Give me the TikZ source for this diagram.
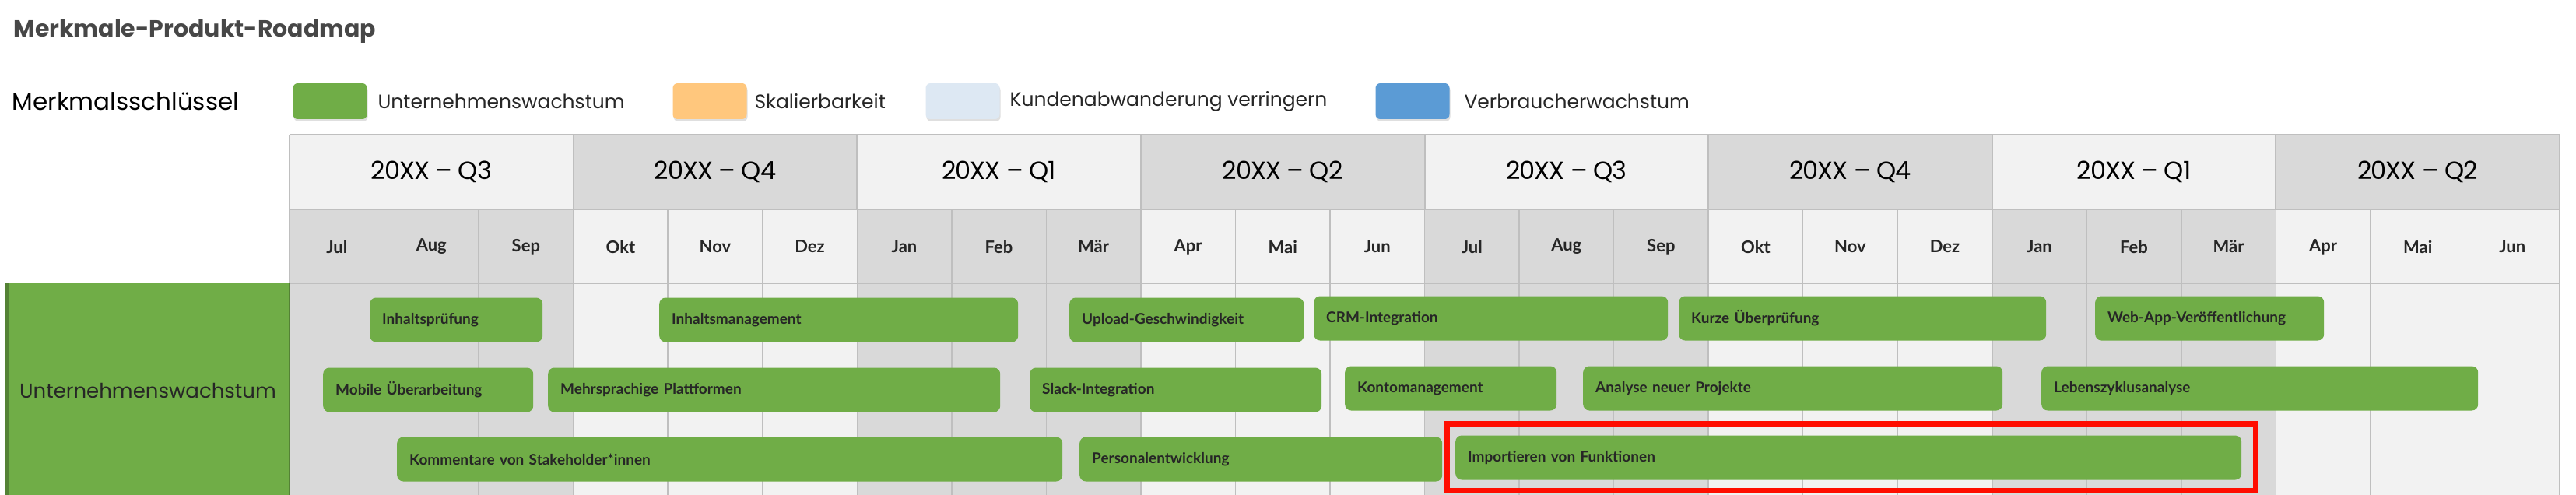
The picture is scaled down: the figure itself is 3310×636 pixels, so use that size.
\documentclass[tikz,border=0pt]{standalone}
\usepackage{fontspec}
\setmainfont{Poppins}
\newfontfamily\barfont{Lato}
\definecolor{gr}{HTML}{70AD47}
\definecolor{grd}{HTML}{548235}
\definecolor{lite}{HTML}{F2F2F2}
\definecolor{dark}{HTML}{D9D9D9}
\definecolor{gline}{HTML}{BFBFBF}
\definecolor{orng}{HTML}{FFC77D}
\definecolor{lblue}{HTML}{DDE8F3}
\definecolor{blu}{HTML}{5B9BD5}
\definecolor{txt}{HTML}{262626}
\tikzset{
 bar/.style={fill=gr, rounded corners=8pt, minimum height=57pt, inner xsep=16pt, align=left, anchor=west, font=\barfont\bfseries\fontsize{19}{22}\selectfont, text=txt},
 legbox/.style={rounded corners=6pt, minimum width=95pt, minimum height=46pt, drop shadow={opacity=0.25, shadow xshift=1pt, shadow yshift=-3pt}},
 legtxt/.style={anchor=west, font=\fontsize{25}{28}\selectfont, text=txt},
 qlab/.style={font=\fontsize{32}{36}\selectfont\addfontfeatures{LetterSpace=-3}, text=black},
 mlab/.style={font=\barfont\bfseries\fontsize{22}{26}\selectfont, text=txt}
}
\usetikzlibrary{shadows}
\begin{document}
\begin{tikzpicture}[x=1pt,y=-1pt]
\useasboundingbox (0,0) rectangle (3310,636);
\fill[white] (0,0) rectangle (3310,636);
\node[anchor=west, font=\bfseries\fontsize{30}{34}\selectfont, text=black!72] (title) at (14,40) {Merkmale-Produkt-Roadmap};
\node[anchor=west, font=\fontsize{31}{34}\selectfont, text=black] (key) at (12,130) {Merkmalsschlüssel};
\node[legbox, fill=gr] (l1) at (424,130) {};
\node[legtxt] (t1) at (482,130) {Unternehmenswachstum};
\node[legbox, fill=orng] (l2) at (912,130) {};
\node[legtxt] (t2) at (966,130) {Skalierbarkeit};
\node[legbox, fill=lblue] (l3) at (1237,130) {};
\node[legtxt] (t3) at (1294,130) {Kundenabwanderung verringern};
\node[legbox, fill=blu] (l4) at (1815,130) {};
\node[legtxt] (t4) at (1878,130) {Verbraucherwachstum};
% columns
\def\mw{121.54}
\foreach \q in {0,...,7}{
  \pgfmathsetmacro{\xa}{372+3*\q*\mw}
  \pgfmathsetmacro{\xb}{372+3*(\q+1)*\mw}
  \pgfmathparse{mod(\q,2)==0 ? "lite" : "dark"}\edef\qc{\pgfmathresult}
  \pgfmathparse{mod(\q,2)==0 ? "dark" : "lite"}\edef\bc{\pgfmathresult}
  \fill[\qc] (\xa,173) rectangle (\xb,269);
  \fill[\bc] (\xa,269) rectangle (\xb,636);
}
\foreach \i in {0,...,24}{
  \pgfmathsetmacro{\xx}{372+\i*\mw}
  \draw[gline, line width=1.5pt] (\xx,269) -- (\xx,636);
}
\foreach \q in {0,...,8}{
  \pgfmathsetmacro{\xx}{372+3*\q*\mw}
  \draw[gline, line width=2pt] (\xx,173) -- (\xx,269);
}
\draw[gline, line width=2pt] (372,173) -- (3289,173);
\draw[gline, line width=2pt] (372,269) -- (3289,269);
\draw[gline, line width=2pt] (7,364) -- (3289,364);
\foreach \lab [count=\q from 0] in {20XX – Q3,20XX – Q4,20XX – Q1,20XX – Q2,20XX – Q3,20XX – Q4,20XX – Q1,20XX – Q2}{
  \node[qlab] (q\q) at ({372+(3*\q+1.5)*\mw},221) {\lab};
}
\foreach \lab [count=\i from 0] in {Jul,Aug,Sep,Okt,Nov,Dez,Jan,Feb,Mär,Apr,Mai,Jun,Jul,Aug,Sep,Okt,Nov,Dez,Jan,Feb,Mär,Apr,Mai,Jun}{
  \node[mlab] (m\i) at ({372+(\i+0.5)*\mw},317) {\lab};
}
% row label
\fill[gr] (7,364) rectangle (372,636);
\fill[grd] (7,364) rectangle (11,636);
\draw[grd, line width=2pt] (372,364) -- (372,636);
\node[font=\fontsize{26}{30}\selectfont, text=txt] (rl) at (190,502) {Unternehmenswachstum};
% bars
\newcommand\rbar[5]{\node[bar, minimum width={#3-#2}, text width={#3-#2-32}] (#1) at (#2,#4) {#5};}
\rbar{b1}{475}{697}{411}{Inhaltsprüfung}
\rbar{b2}{847}{1308}{411}{Inhaltsmanagement}
\rbar{b3}{1374}{1675}{411}{Upload-Geschwindigkeit}
\rbar{b4}{1688}{2143}{409}{CRM-Integration}
\rbar{b5}{2157}{2629}{409}{Kurze Überprüfung}
\rbar{b6}{2692}{2986}{409}{Web-App-Veröffentlichung}
\rbar{c1}{415}{685}{501}{Mobile Überarbeitung}
\rbar{c2}{704}{1285}{501}{Mehrsprachige Plattformen}
\rbar{c3}{1323}{1698}{501}{Slack-Integration}
\rbar{c4}{1728}{2000}{499}{Kontomanagement}
\rbar{c5}{2034}{2573}{499}{Analyse neuer Projekte}
\rbar{c6}{2623}{3184}{499}{Lebenszyklusanalyse}
\rbar{d1}{510}{1365}{590}{Kommentare von Stakeholder*innen}
\rbar{d2}{1387}{1853}{590}{Personalentwicklung}
\rbar{d3}{1870}{2880}{588}{Importieren von Funktionen}
\draw[red!90!orange, line width=7pt] (1859,544) rectangle (2898,630);
\end{tikzpicture}
\end{document}
